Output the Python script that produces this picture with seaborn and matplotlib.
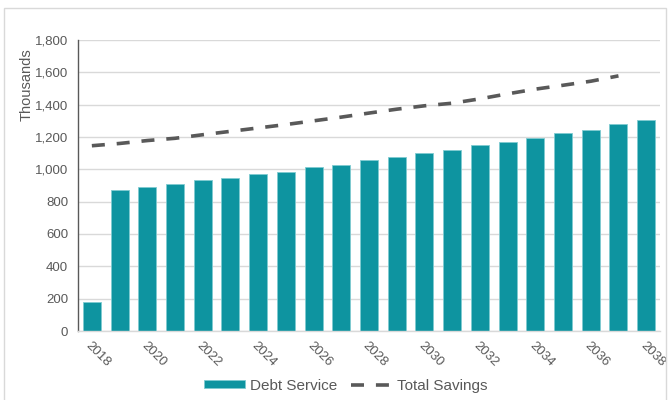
import matplotlib
matplotlib.use("Agg")
import matplotlib.pyplot as plt
import seaborn as sns
import pandas as pd
import numpy as np
from matplotlib.patches import Rectangle

years = list(range(2018, 2039))
debt_service = [177, 874, 889, 911, 934, 946, 969, 983, 1012, 1027, 1056,
                1078, 1101, 1121, 1150, 1171, 1193, 1222, 1245, 1280, 1305]
total_savings = [1146, 1160, 1178, 1192, 1214, 1235, 1256, 1277, 1300, 1323,
                 1348, 1372, 1393, 1409, 1436, 1467, 1496, 1520, 1545, 1578]
tick_labels = [str(y) for y in years[::2]]

sns.set_theme(style="white")
plt.rcParams['font.family'] = ['Liberation Sans', 'DejaVu Sans']

teal = "#0E94A0"
gray_txt = "#595959"

fig = plt.figure(figsize=(6.69, 4.0), dpi=100)
ax = fig.add_axes([0.1166, 0.1725, 0.8700, 0.7275])

df = pd.DataFrame({"year": [str(y) for y in years], "debt": debt_service})
sns.barplot(data=df, x="year", y="debt", color=teal, saturation=1, width=0.65,
            edgecolor="#7FCBD1", linewidth=0.6, ax=ax, label="Debt Service")

sdf = pd.DataFrame({"pos": np.arange(len(total_savings)), "sav": total_savings})
sns.lineplot(data=sdf, x="pos", y="sav", color=gray_txt, linewidth=2.6,
             dashes=False, ax=ax, label="Total Savings")
ax.lines[-1].set_dashes([3.6, 3.3])
ax.lines[-1].set_dash_capstyle("butt")

ax.set_xlim(-0.5, len(years) - 0.5)
ax.set_ylim(0, 1800)
ax.set_yticks(range(0, 1801, 200))
ax.set_yticklabels([f"{v:,}" for v in range(0, 1801, 200)], fontsize=9.5, color=gray_txt)
ax.yaxis.grid(True, color="#D9D9D9", linewidth=1)
ax.set_axisbelow(True)

ax.set_xticks(range(0, len(years), 2))
ax.set_xticklabels(tick_labels, rotation=-45, ha="left", rotation_mode="anchor",
                   fontsize=9.5, color=gray_txt)
ax.tick_params(axis="x", which="major", length=0, pad=6)
ax.set_xticks(np.arange(-0.5, len(years), 2), minor=True)
ax.tick_params(axis="x", which="minor", length=4, color="#D9D9D9", width=1)
ax.tick_params(axis="y", length=4, color="#595959", width=1, pad=3)

ax.set_xlabel("")
ax.set_ylabel("Thousands", fontsize=10.5, color=gray_txt)
ax.yaxis.set_label_coords(-0.076, 0.845)

for s in ["top", "right"]:
    ax.spines[s].set_visible(False)
ax.spines["left"].set_color("#595959")
ax.spines["left"].set_linewidth(1)
ax.spines["bottom"].set_color("#D9D9D9")
ax.spines["bottom"].set_linewidth(1)

handles, labels = ax.get_legend_handles_labels()
order = [labels.index("Debt Service"), labels.index("Total Savings")]
leg = ax.legend([handles[i] for i in order], [labels[i] for i in order],
                loc="center", bbox_to_anchor=(0.46, -0.188), ncol=2, frameon=False,
                fontsize=11, handlelength=2.7, handleheight=0.45, columnspacing=0.9,
                handletextpad=0.3, bbox_transform=ax.transAxes)
for t in leg.get_texts():
    t.set_color(gray_txt)

fig.patches.append(Rectangle((0.006, -0.01), 0.99, 0.99, transform=fig.transFigure,
                             fill=False, edgecolor="#D9D9D9", linewidth=1))

fig.savefig("out.png", dpi=100)
